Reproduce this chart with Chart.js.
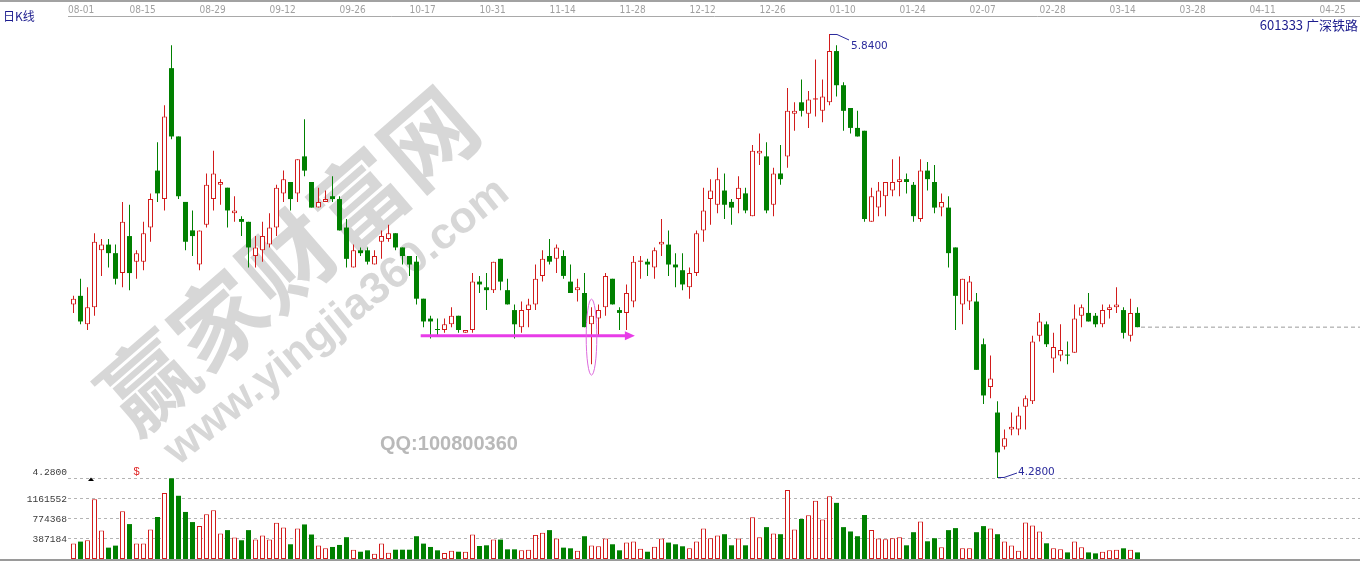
<!DOCTYPE html>
<html>
<head>
<meta charset="utf-8">
<title>601333 广深铁路 日K线</title>
<script src="https://cdn.jsdelivr.net/npm/chart.js@4.4.1/dist/chart.umd.min.js"></script>
<style>
  html, body { margin: 0; padding: 0; background: #ffffff; }
  canvas { display: block; }
</style>
</head>
<body>
<canvas id="kline" width="1360" height="561"></canvas>
<script>
// Session index of the first candle, counted from the 08-01 session (index 0)
const FIRST_DAY = 2;

// Date labels on the time axis, one every 10 sessions starting at 08-01
const dateTicks = ['08-01', '08-15', '08-29', '09-12', '09-26', '10-17', '10-31', '11-14', '11-28',
  '12-12', '12-26', '01-10', '01-24', '02-07', '02-28', '03-14', '03-28', '04-11', '04-25'];

// Daily prices
const opens = [
  4.89, 4.92, 4.82, 4.88, 5.08, 5.10, 5.07, 5.00, 5.13, 5.04,
  5.04, 5.16, 5.36, 5.26, 5.72, 5.48, 5.25, 5.15, 5.03, 5.17,
  5.26, 5.31, 5.30, 5.21, 5.19, 5.18, 5.06, 5.08, 5.10, 5.16,
  5.28, 5.32, 5.28, 5.41, 5.32, 5.23, 5.25, 5.27, 5.26, 5.16,
  5.02, 5.08, 5.08, 5.03, 5.11, 5.12, 5.14, 5.09, 5.06, 5.04,
  4.91, 4.84, 4.80, 4.80, 4.82, 4.85, 4.79, 4.80, 4.97, 4.95,
  4.94, 5.05, 4.94, 4.87, 4.81, 4.87, 4.89, 4.99, 5.06, 5.05,
  5.06, 4.97, 4.94, 4.93, 4.82, 4.84, 4.88, 4.98, 4.87, 4.86,
  4.90, 5.04, 5.04, 5.02, 5.10, 5.10, 5.03, 5.01, 4.95, 5.00,
  5.15, 5.26, 5.24, 5.29, 5.25, 5.26, 5.28, 5.20, 5.42, 5.41,
  5.24, 5.35, 5.41, 5.56, 5.60, 5.56, 5.61, 5.57, 5.60, 5.78,
  5.66, 5.58, 5.51, 5.50, 5.18, 5.23, 5.27, 5.29, 5.32, 5.33,
  5.31, 5.19, 5.36, 5.32, 5.23, 5.23, 5.09, 4.89, 4.90, 4.90,
  4.75, 4.60, 4.51, 4.39, 4.45, 4.45, 4.53, 4.55, 4.78, 4.82,
  4.70, 4.71, 4.71, 4.72, 4.85, 4.86, 4.85, 4.82, 4.87, 4.88,
  4.87, 4.78, 4.86
];
const highs = [
  4.92, 4.98, 4.95, 5.14, 5.12, 5.12, 5.10, 5.25, 5.24, 5.08,
  5.18, 5.28, 5.46, 5.59, 5.80, 5.48, 5.25, 5.22, 5.15, 5.35,
  5.43, 5.33, 5.30, 5.27, 5.20, 5.18, 5.13, 5.18, 5.21, 5.31,
  5.36, 5.32, 5.40, 5.54, 5.32, 5.30, 5.29, 5.34, 5.27, 5.19,
  5.10, 5.09, 5.09, 5.08, 5.15, 5.17, 5.14, 5.09, 5.06, 5.06,
  4.91, 4.85, 4.84, 4.84, 4.88, 4.85, 4.80, 5.00, 4.99, 5.00,
  5.04, 5.05, 4.98, 4.89, 4.90, 4.91, 5.03, 5.08, 5.12, 5.10,
  5.08, 5.03, 4.98, 5.00, 4.88, 4.89, 5.00, 4.98, 4.88, 4.96,
  5.06, 5.06, 5.05, 5.09, 5.19, 5.15, 5.07, 5.07, 5.02, 5.15,
  5.30, 5.33, 5.37, 5.35, 5.26, 5.34, 5.30, 5.45, 5.49, 5.46,
  5.37, 5.45, 5.65, 5.60, 5.68, 5.64, 5.75, 5.68, 5.84, 5.80,
  5.67, 5.58, 5.57, 5.50, 5.30, 5.32, 5.32, 5.40, 5.41, 5.35,
  5.32, 5.40, 5.39, 5.38, 5.28, 5.27, 5.09, 4.98, 4.99, 4.93,
  4.77, 4.71, 4.55, 4.45, 4.51, 4.53, 4.57, 4.78, 4.86, 4.83,
  4.79, 4.82, 4.76, 4.89, 4.89, 4.93, 4.86, 4.89, 4.89, 4.95,
  4.88, 4.91, 4.88
];
const lows = [
  4.86, 4.82, 4.80, 4.85, 4.99, 5.02, 4.96, 4.95, 4.94, 4.98,
  5.01, 5.11, 5.25, 5.22, 5.47, 5.26, 5.08, 5.06, 5.01, 5.16,
  5.22, 5.24, 5.16, 5.18, 5.13, 5.02, 5.02, 5.04, 5.09, 5.13,
  5.25, 5.22, 5.25, 5.34, 5.23, 5.23, 5.25, 5.25, 5.15, 5.02,
  5.02, 5.06, 5.03, 5.03, 5.05, 5.11, 5.08, 5.03, 4.99, 4.89,
  4.81, 4.77, 4.78, 4.79, 4.81, 4.79, 4.79, 4.79, 4.93, 4.87,
  4.93, 4.94, 4.89, 4.77, 4.79, 4.81, 4.87, 4.97, 5.03, 5.00,
  4.98, 4.93, 4.90, 4.81, 4.68, 4.78, 4.85, 4.89, 4.80, 4.80,
  4.88, 4.98, 4.99, 4.98, 5.06, 4.99, 4.95, 4.94, 4.91, 4.99,
  5.11, 5.17, 5.21, 5.19, 5.17, 5.21, 5.21, 5.20, 5.38, 5.21,
  5.20, 5.31, 5.37, 5.50, 5.55, 5.51, 5.55, 5.53, 5.59, 5.62,
  5.50, 5.49, 5.48, 5.18, 5.18, 5.20, 5.20, 5.27, 5.27, 5.28,
  5.18, 5.18, 5.29, 5.21, 5.20, 5.02, 4.80, 4.82, 4.87, 4.66,
  4.54, 4.56, 4.28, 4.38, 4.43, 4.43, 4.45, 4.54, 4.76, 4.74,
  4.65, 4.69, 4.68, 4.72, 4.81, 4.83, 4.81, 4.81, 4.84, 4.86,
  4.77, 4.76, 4.81
];
const closes = [
  4.91, 4.83, 4.88, 5.11, 5.10, 5.07, 4.98, 5.18, 5.00, 5.07,
  5.14, 5.26, 5.28, 5.55, 5.48, 5.27, 5.11, 5.13, 5.15, 5.31,
  5.35, 5.32, 5.22, 5.22, 5.18, 5.09, 5.09, 5.13, 5.16, 5.30,
  5.33, 5.26, 5.40, 5.36, 5.23, 5.25, 5.26, 5.26, 5.15, 5.05,
  5.08, 5.07, 5.04, 5.06, 5.13, 5.14, 5.09, 5.06, 5.03, 4.91,
  4.83, 4.83, 4.80, 4.82, 4.85, 4.80, 4.80, 4.97, 4.96, 4.94,
  5.04, 4.97, 4.89, 4.82, 4.87, 4.89, 4.98, 5.05, 5.04, 5.09,
  4.99, 4.93, 4.95, 4.81, 4.85, 4.87, 4.99, 4.89, 4.86, 4.93,
  5.04, 5.04, 5.03, 5.08, 5.11, 5.03, 5.02, 4.96, 5.00, 5.14,
  5.22, 5.29, 5.33, 5.24, 5.23, 5.30, 5.22, 5.43, 5.43, 5.22,
  5.35, 5.33, 5.57, 5.57, 5.57, 5.61, 5.61, 5.62, 5.78, 5.66,
  5.57, 5.51, 5.48, 5.19, 5.27, 5.29, 5.32, 5.32, 5.33, 5.32,
  5.20, 5.36, 5.33, 5.23, 5.25, 5.07, 4.92, 4.98, 4.97, 4.66,
  4.57, 4.63, 4.37, 4.42, 4.46, 4.50, 4.56, 4.76, 4.83, 4.75,
  4.74, 4.73, 4.71, 4.84, 4.88, 4.83, 4.82, 4.87, 4.88, 4.89,
  4.79, 4.86, 4.81
];
// Daily volume (shares)
const volumes = [
  298000, 337000, 363000, 1158000, 552000, 220000, 259000, 924000, 676000, 298000,
  298000, 572000, 813000, 1276000, 1562000, 1224000, 911000, 715000, 637000, 865000,
  943000, 494000, 559000, 415000, 363000, 559000, 376000, 454000, 376000, 702000,
  611000, 285000, 591000, 669000, 474000, 259000, 207000, 233000, 272000, 422000,
  180000, 141000, 168000, 102000, 298000, 122000, 180000, 180000, 180000, 441000,
  298000, 233000, 168000, 115000, 161000, 141000, 141000, 474000, 252000, 265000,
  376000, 376000, 187000, 187000, 168000, 180000, 467000, 506000, 559000, 396000,
  220000, 207000, 161000, 441000, 259000, 246000, 396000, 285000, 168000, 318000,
  337000, 200000, 141000, 239000, 396000, 318000, 285000, 246000, 207000, 337000,
  591000, 402000, 454000, 480000, 265000, 396000, 265000, 806000, 422000, 617000,
  494000, 480000, 1334000, 572000, 774000, 845000, 1126000, 767000, 1217000, 1087000,
  617000, 533000, 441000, 852000, 559000, 396000, 383000, 402000, 422000, 265000,
  519000, 728000, 343000, 402000, 226000, 559000, 598000, 207000, 207000, 519000,
  637000, 591000, 480000, 337000, 259000, 161000, 709000, 650000, 533000, 304000,
  207000, 187000, 128000, 337000, 226000, 128000, 109000, 141000, 168000, 180000,
  207000, 180000, 128000
];
// Volume grid step shown on the left scale
const VOLUME_STEP = 387184;

// Marked support level (session range and price) and the circled session
const supportLine = { fromDay: 51.6, toDay: 82.2, price: 4.78 };
const circled = { day: 76, price: 4.775 };

// ---- view geometry ----
const X_MIN = 8.5 / 7, X_MAX = 1300.5 / 7;      // 7 px per session
const PRICE_MIN = 3.9954, PRICE_MAX = 5.9032;   // price band shares the full plot height
const VOL_MAX = 10512000;                       // volume bars occupy the bottom strip
const AXIS_H = 16, LEFT_W = 68;

const UP = '#d21c1c', DOWN = '#008000';
const FONT_NARROW = "'Liberation Sans Narrow', 'DejaVu Sans Condensed', sans-serif";
const FONT_MONO = "'Liberation Mono', 'DejaVu Sans Mono', monospace";
const FONT_CJK = "'Noto Sans CJK SC', 'Noto Sans', sans-serif";

const days = opens.map((_, k) => FIRST_DAY + k);
const rising = opens.map((o, k) => closes[k] > o ||
  (closes[k] === o && (k === 0 || closes[k] >= closes[k - 1])));
const tone = rising.map(r => r ? UP : DOWN);
const flat = opens.map((o, k) => Math.abs(closes[k] - o) < 0.005);
const last = closes.length - 1;

const watermark = {
  id: 'watermark',
  beforeDatasetsDraw(chart) {
    const ctx = chart.ctx;
    ctx.save();
    ctx.fillStyle = 'rgba(140,140,140,0.35)';
    ctx.textAlign = 'center';
    ctx.textBaseline = 'middle';
    // site name, one glyph at a time along a rising diagonal
    const name = '赢家财富网';
    ctx.save();
    ctx.translate(288, 260);
    ctx.rotate(-41 * Math.PI / 180);
    ctx.font = "bold 92px " + FONT_CJK;
    for (let k = 0; k < name.length; k++) ctx.fillText(name[k], (k - 2) * 93, 0);
    ctx.restore();
    ctx.save();
    ctx.translate(337, 322);
    ctx.rotate(-39 * Math.PI / 180);
    ctx.font = "bold 44px 'Liberation Sans', Arial, sans-serif";
    ctx.fillText('www.yingjia360.com', 0, 0);
    ctx.restore();
    ctx.fillStyle = '#b9b9b9';
    ctx.textAlign = 'left';
    ctx.font = "bold 20px 'Liberation Sans', Arial, sans-serif";
    ctx.fillText('QQ:100800360', 380, 444);
    ctx.restore();
  }
};

const marks = {
  id: 'marks',
  afterDatasetsDraw(chart) {
    const ctx = chart.ctx, xs = chart.scales.x, yp = chart.scales.yP;
    ctx.save();
    // highest and lowest price call-outs
    const hiVal = Math.max(...highs), loVal = Math.min(...lows);
    const iHi = highs.indexOf(hiVal), iLo = lows.indexOf(loVal);
    const hx = Math.round(xs.getPixelForValue(days[iHi])), hy = yp.getPixelForValue(hiVal);
    const lx = Math.round(xs.getPixelForValue(days[iLo])), ly = yp.getPixelForValue(loVal);
    ctx.strokeStyle = '#2a2a9c';
    ctx.fillStyle = '#2a2a9c';
    ctx.lineWidth = 1;
    ctx.beginPath();
    ctx.moveTo(hx, hy + 0.5); ctx.lineTo(hx + 7, hy + 0.5); ctx.lineTo(hx + 19, hy + 6);
    ctx.moveTo(lx, ly - 0.5); ctx.lineTo(lx + 6, ly - 0.5); ctx.lineTo(lx + 19, ly - 5);
    ctx.stroke();
    ctx.font = "10.5px 'DejaVu Sans', sans-serif";
    ctx.textAlign = 'left';
    ctx.textBaseline = 'middle';
    ctx.fillText(hiVal.toFixed(4), hx + 21, hy + 12);
    ctx.fillText(loVal.toFixed(4), lx + 20, ly - 6);

    // support arrow
    const ax0 = xs.getPixelForValue(supportLine.fromDay);
    const ax1 = xs.getPixelForValue(supportLine.toDay);
    const ay = yp.getPixelForValue(supportLine.price);
    ctx.strokeStyle = '#e83ce8';
    ctx.fillStyle = '#e83ce8';
    ctx.lineWidth = 3;
    ctx.beginPath();
    ctx.moveTo(ax0, ay); ctx.lineTo(ax1 - 8, ay);
    ctx.stroke();
    ctx.beginPath();
    ctx.moveTo(ax1 - 10, ay - 4.5); ctx.lineTo(ax1, ay); ctx.lineTo(ax1 - 10, ay + 4.5);
    ctx.closePath();
    ctx.fill();

    // circled session
    const cx = xs.getPixelForValue(circled.day), cy = yp.getPixelForValue(circled.price);
    ctx.strokeStyle = '#dc6adc';
    ctx.lineWidth = 1;
    ctx.beginPath();
    ctx.ellipse(cx, cy, 5.3, 38, 0, 0, Math.PI * 2);
    ctx.stroke();
    ctx.restore();
  }
};

const frame = {
  id: 'frame',
  afterDraw(chart) {
    const ctx = chart.ctx, W = chart.width, H = chart.height;
    const yv = chart.scales.yV;
    ctx.save();
    ctx.fillStyle = '#a2a2a2';
    ctx.fillRect(0, 0, W, 2);
    ctx.fillStyle = '#9a9a9a';
    ctx.fillRect(0, chart.chartArea.bottom, W, H - chart.chartArea.bottom);

    ctx.textBaseline = 'middle';
    ctx.fillStyle = '#1c1c8e';
    ctx.font = '12px ' + FONT_CJK;
    ctx.textAlign = 'left';
    ctx.fillText('日K线', 3, 16.5);
    ctx.font = '13px ' + FONT_CJK;
    ctx.textAlign = 'right';
    ctx.fillText('601333 广深铁路', W - 2, 25.5);

    // price floor shown above the volume strip
    ctx.fillStyle = '#3a3a3a';
    ctx.font = '9.6px ' + FONT_MONO;
    ctx.fillText(Math.min(...lows).toFixed(4), LEFT_W - 1, yv.getPixelForValue(4 * VOLUME_STEP) - 6.5);

    ctx.fillStyle = '#000';
    ctx.beginPath();
    ctx.moveTo(88, 481); ctx.lineTo(94, 481); ctx.lineTo(91, 477.5);
    ctx.closePath();
    ctx.fill();
    ctx.fillStyle = '#e02828';
    ctx.textAlign = 'center';
    ctx.font = "11px 'Liberation Sans', Arial, sans-serif";
    ctx.fillText('$', 136.5, 472);
    ctx.restore();
  }
};

new Chart(document.getElementById('kline'), {
  type: 'bar',
  data: {
    datasets: [
      {
        label: 'body',
        yAxisID: 'yP',
        data: days.map((d, k) => ({ x: d, y: [opens[k], closes[k]] })),
        backgroundColor: rising.map((r, k) => (r && !flat[k]) ? '#ffffff' : tone[k]),
        borderColor: tone,
        borderWidth: rising.map((r, k) => (r && !flat[k]) ? 1 : 0),
        barThickness: 5,
        minBarLength: 1,
        grouped: false,
        borderSkipped: false,
        inflateAmount: 0,
        order: 0
      },
      {
        label: 'wick',
        yAxisID: 'yP',
        data: days.map((d, k) => ({ x: d, y: [lows[k], highs[k]] })),
        backgroundColor: tone,
        borderWidth: 0,
        barThickness: 1,
        grouped: false,
        inflateAmount: 0,
        order: 1
      },
      {
        label: 'volume',
        yAxisID: 'yV',
        data: days.map((d, k) => ({ x: d, y: volumes[k] })),
        backgroundColor: rising.map(r => r ? '#ffffff' : DOWN),
        borderColor: tone,
        borderWidth: rising.map(r => r ? 1 : 0),
        barThickness: 5,
        grouped: false,
        borderSkipped: false,
        inflateAmount: 0,
        order: 2
      },
      {
        type: 'line',
        label: 'last close',
        yAxisID: 'yP',
        data: [{ x: days[last] + 0.5, y: closes[last] }, { x: X_MAX, y: closes[last] }],
        borderColor: '#9a9a9a',
        borderWidth: 1,
        borderDash: [4, 3],
        pointRadius: 0,
        order: 3
      }
    ]
  },
  options: {
    responsive: false,
    animation: false,
    events: [],
    layout: { padding: { top: 0, right: 0, bottom: 2, left: 0 } },
    plugins: { legend: { display: false }, tooltip: { enabled: false } },
    scales: {
      x: {
        type: 'linear',
        position: 'top',
        min: X_MIN,
        max: X_MAX,
        offset: false,
        afterBuildTicks: s => { s.ticks = dateTicks.map((_, k) => ({ value: k === 0 ? s.min : k * 10 })); },
        afterFit: s => { s.height = AXIS_H; s.paddingLeft = 0; s.paddingRight = 0; },
        ticks: {
          autoSkip: false, maxRotation: 0, minRotation: 0, align: 'start', padding: 0,
          color: '#a0a0a0', font: { family: FONT_NARROW, size: 10 },
          callback: (v, i) => dateTicks[i]
        },
        grid: { display: false, drawTicks: false },
        border: { display: true, color: '#a9a9a9', width: 1 }
      },
      yP: { type: 'linear', display: false, min: PRICE_MIN, max: PRICE_MAX },
      yV: {
        type: 'linear',
        position: 'left',
        min: 0,
        max: VOL_MAX,
        afterBuildTicks: s => { s.ticks = [1, 2, 3, 4].map(n => ({ value: n * VOLUME_STEP })); },
        afterFit: s => { s.width = LEFT_W; s.paddingTop = 0; s.paddingBottom = 0; },
        ticks: {
          padding: 1, color: '#3a3a3a', font: { family: FONT_MONO, size: 9.6 },
          callback: v => (v >= 4 * VOLUME_STEP ? '' : String(v))
        },
        grid: { color: '#b4b4b4', lineWidth: 1, drawTicks: false },
        border: { display: false, dash: [3, 3] }
      }
    }
  },
  plugins: [watermark, marks, frame]
});
</script>
</body>
</html>
